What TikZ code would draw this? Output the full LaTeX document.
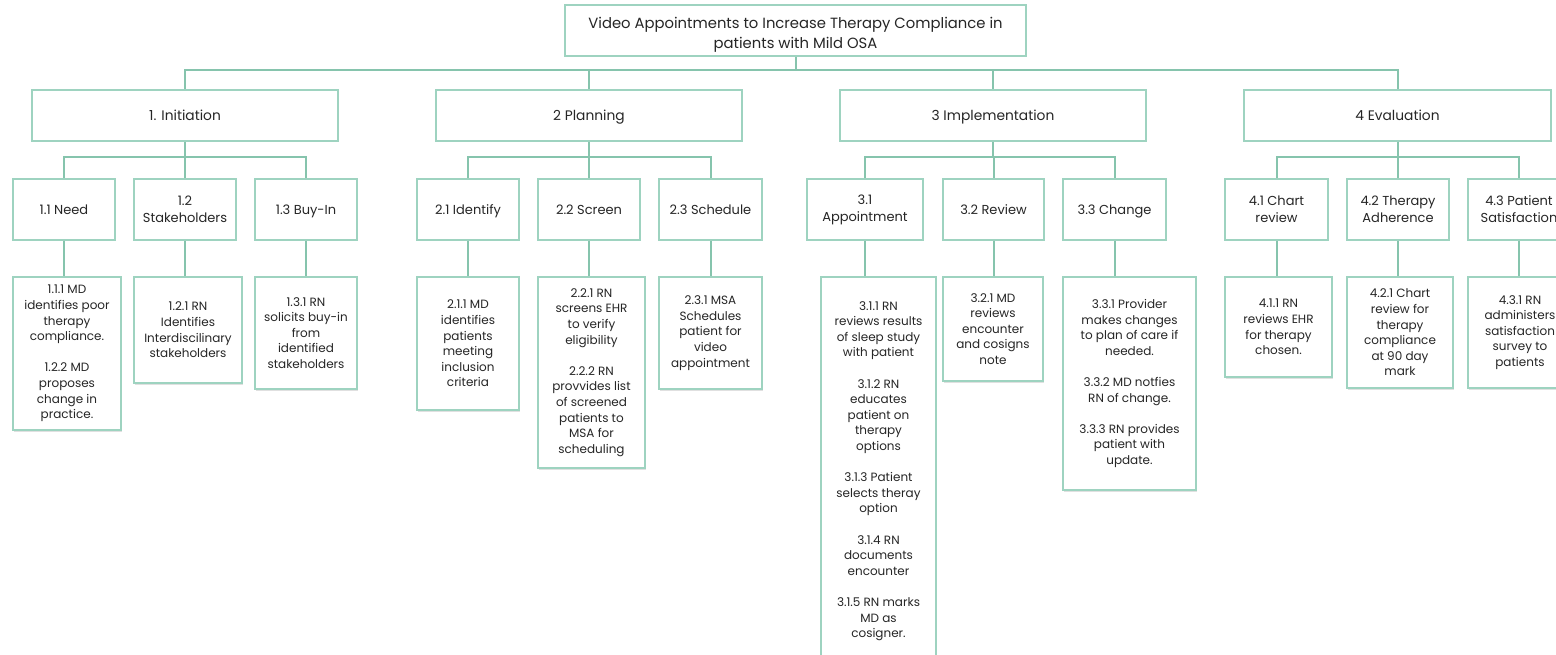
\documentclass[tikz,border=0pt]{standalone}
\usepackage{fontspec}
\setmainfont{Poppins}
\usetikzlibrary{shadows}
\definecolor{boxline}{HTML}{9ED3C0}
\definecolor{connline}{HTML}{86C4AD}
\definecolor{txt}{HTML}{262626}
\tikzset{
  base/.style={draw=boxline, line width=1.6pt, fill=white, align=center, inner sep=2pt, text=txt,
    drop shadow={shadow xshift=1.2pt, shadow yshift=-1.5pt, opacity=0.12, fill=black}},
  rootbox/.style={base, font=\fontsize{14.8}{20}\selectfont},
  lonebox/.style={base, font=\fontsize{13.8}{16}\selectfont, text height=14pt, text depth=3pt},
  ltwobox/.style={base, font=\fontsize{13}{17}\selectfont},
  ltwoline/.style={ltwobox, text height=13pt, text depth=3pt},
  lthreebox/.style={base, font=\fontsize{12}{15.6}\selectfont},
  conn/.style={draw=connline, line width=2pt},
}
\newcommand\bx[7]{\node[#1, minimum width={#5-#3}, minimum height={#6-#4}] (#2) at ({(#3+#5)/2},{(#4+#6)/2}) {#7};}
\begin{document}
\begin{tikzpicture}[x=1pt, y=-1pt]
\useasboundingbox (0,0) rectangle (1556,655);
\clip (0,0) rectangle (1556,655);
\coordinate (busA) at (0,70);
\coordinate (busB) at (0,157);
% root
\bx{rootbox}{root}{565}{5}{1026}{56}{\rule{0pt}{19pt}Video Appointments to Increase Therapy Compliance in\\patients with Mild OSA}
% level 1
\bx{lonebox}{A}{32}{90}{338}{141}{1. Initiation}
\bx{lonebox}{B}{436}{90}{742}{141}{2 Planning}
\bx{lonebox}{C}{840}{90}{1146}{141}{3 Implementation}
\bx{lonebox}{D}{1244}{90}{1551}{141}{4 Evaluation}
% level 2
\bx{ltwoline}{A1}{13}{179}{115}{240}{1.1 Need}
\bx{ltwobox}{A2}{134}{179}{236}{240}{1.2\\Stakeholders}
\bx{ltwoline}{A3}{255}{179}{357}{240}{1.3 Buy-In}
\bx{ltwoline}{B1}{417}{179}{519}{240}{2.1 Identify}
\bx{ltwoline}{B2}{538}{179}{640}{240}{2.2 Screen}
\bx{ltwoline}{B3}{659}{179}{762}{240}{2.3 Schedule}
\bx{ltwobox}{C1}{807}{179}{923}{240}{3.1\\Appointment}
\bx{ltwoline}{C2}{943}{179}{1044}{240}{3.2 Review}
\bx{ltwoline}{C3}{1063}{179}{1166}{240}{3.3 Change}
\bx{ltwobox}{D1}{1225}{179}{1328}{240}{4.1 Chart\\review}
\bx{ltwobox}{D2}{1347}{179}{1449}{240}{4.2 Therapy\\Adherence}
\bx{ltwobox}{D3}{1468}{179}{1570}{240}{4.3 Patient\\Satisfaction}
% level 3
\bx{lthreebox}{A11}{13}{277}{121}{430}{1.1.1 MD\\identifies poor\\therapy\\compliance.\\[15.6pt]1.2.2 MD\\proposes\\change in\\practice.}
\bx{lthreebox}{A21}{134}{277}{242}{383}{1.2.1 RN\\Identifies\\Interdiscilinary\\stakeholders}
\bx{lthreebox}{A31}{255}{277}{357}{389}{1.3.1 RN\\solicits buy-in\\from\\identified\\stakeholders}
\bx{lthreebox}{B11}{417}{277}{519}{410}{2.1.1 MD\\identifies\\patients\\meeting\\inclusion\\criteria}
\bx{lthreebox}{B21}{538}{277}{645}{468}{2.2.1 RN\\screens EHR\\to verify\\eligibility\\[15.6pt]2.2.2 RN\\provvides list\\of screened\\patients to\\MSA for\\scheduling}
\bx{lthreebox}{B31}{659}{277}{762}{389}{2.3.1 MSA\\Schedules\\patient for\\video\\appointment}
\bx{lthreebox}{C11}{821}{277}{936}{665}{3.1.1 RN\\reviews results\\of sleep study\\with patient\\[15.6pt]3.1.2 RN\\educates\\patient on\\therapy\\options\\[15.6pt]3.1.3 Patient\\selects theray\\option\\[15.6pt]3.1.4 RN\\documents\\encounter\\[15.6pt]3.1.5 RN marks\\MD as\\cosigner.}
\bx{lthreebox}{C21}{943}{277}{1043}{381}{3.2.1 MD\\reviews\\encounter\\and cosigns\\note}
\bx{lthreebox}{C31}{1063}{277}{1196}{490}{3.3.1 Provider\\makes changes\\to plan of care if\\needed.\\[15.6pt]3.3.2 MD notfies\\RN of change.\\[15.6pt]3.3.3 RN provides\\patient with\\update.}
\bx{lthreebox}{D11}{1225}{277}{1332}{377}{4.1.1 RN\\reviews EHR\\for therapy\\chosen.}
\bx{lthreebox}{D21}{1347}{277}{1453}{388}{4.2.1 Chart\\review for\\therapy\\compliance\\at 90 day\\mark}
\bx{lthreebox}{D31}{1468}{277}{1572}{388}{4.3.1 RN\\administers\\satisfaction\\survey to\\patients}
% connectors
\draw[conn] (root.south) -- (root.south |- busA);
\foreach \n in {A,B,C,D}{\draw[conn] (root.south |- busA) -| (\n.north);}
\foreach \p in {A,B,C,D}{
  \draw[conn] (\p.south) -- (\p.south |- busB);
  \foreach \i in {1,2,3}{\draw[conn] (\p.south |- busB) -| (\p\i.north);}
  \foreach \i in {1,2,3}{\draw[conn] (\p\i.south) -- (\p\i.south |- \p\i1.north);}
}
\end{tikzpicture}
\end{document}
